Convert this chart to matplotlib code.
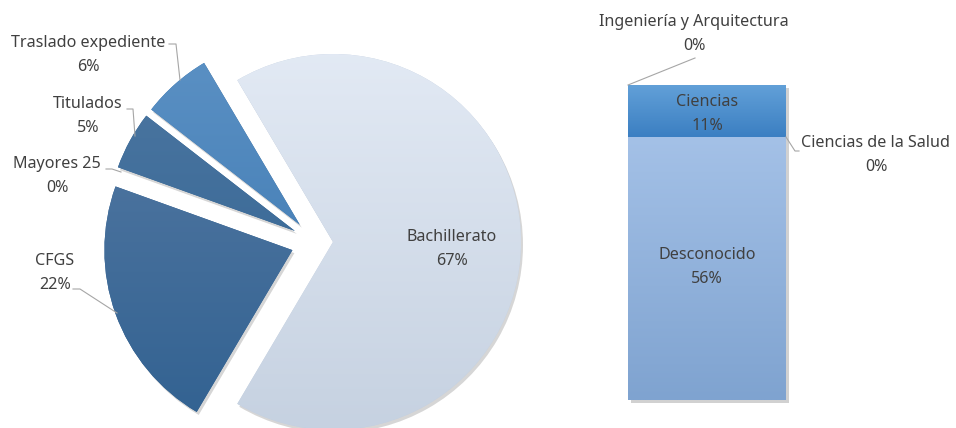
import matplotlib
matplotlib.use("Agg")
import matplotlib.pyplot as plt
import numpy as np
from matplotlib.colors import LinearSegmentedColormap
from matplotlib.patches import Rectangle
from matplotlib.transforms import offset_copy

# pie: origen de los alumnos (counterclockwise from Bachillerato)
pie_labels = ['Bachillerato', 'Traslado expediente', 'Titulados', 'Mayores 25', 'CFGS']
pie_values = [67, 6, 5, 0, 22]
pie_explode = [18, 23, 23, 23, 24]   # in px
pie_top = ['#e5ecf6', '#5e93c6', '#5079a3', '#5079a3', '#5a7da6']
pie_bot = ['#c3cfdf', '#3471ab', '#2b5f8f', '#2b5f8f', '#2e5f8f']

# bar: desglose de Bachillerato (bottom -> top)
bar_labels = ['Desconocido', 'Ciencias de la Salud', 'Ciencias', 'Ingeniería y Arquitectura']
bar_values = [56, 0, 11, 0]
bar_top = ['#a4c1e7', '#a4c1e7', '#62a0d8', '#62a0d8']
bar_bot = ['#7fa3d0', '#7fa3d0', '#3b7fc2', '#3b7fc2']

W, H = 956, 428
txt = '#404040'
line_c = '#a6a6a6'
plt.rcParams['font.family'] = ['Noto Sans', 'DejaVu Sans']
fs = 11.6


def grad_fill(a, patch, top, bot, ext):
    cm = LinearSegmentedColormap.from_list('g', [bot, top])
    g = np.linspace(0, 1, 256).reshape(-1, 1)
    im = a.imshow(g, cmap=cm, origin='lower', extent=ext, aspect='auto',
                  interpolation='bilinear', zorder=patch.get_zorder() + 0.1)
    im.set_clip_path(patch)


fig = plt.figure(figsize=(W / 100, H / 100), dpi=100)

# stacked bar (drawn below the main axes)
bx = fig.add_axes([628 / W, (H - 400) / H, 158 / W, 315 / H])
shadow_tr = offset_copy(bx.transAxes, fig=fig, x=2.5, y=-3, units='dots')
bx.add_patch(Rectangle((0, 0), 1, 1, transform=shadow_tr, color='black', alpha=0.18,
                       clip_on=False, zorder=0.5, lw=0))
bottom = 0
bars = []
for i, v in enumerate(bar_values):
    b = bx.bar(0, v, bottom=bottom, width=1.0, color=bar_bot[i], edgecolor='none')[0]
    bars.append((b, bottom))
    bottom += v
for i, (b, b0) in enumerate(bars):
    if bar_values[i] > 0:
        grad_fill(bx, b, bar_top[i], bar_bot[i], (-0.5, 0.5, b0, b0 + bar_values[i]))
bx.set_xlim(-0.5, 0.5)
bx.set_ylim(0, sum(bar_values))
bx.axis('off')

ax = fig.add_axes([0, 0, 1, 1])
ax.patch.set_visible(False)

R = 188
cx, cy = 315, H - 242
start = -180 * pie_values[0] / 100

# shadows first
sh, _ = ax.pie(pie_values, explode=pie_explode, startangle=start, radius=R,
               center=(cx + 2, cy - 3), counterclock=True)
for w in sh:
    w.set_facecolor('#000000')
    w.set_alpha(0.16)
    w.set_edgecolor('none')

wedges, _ = ax.pie(pie_values, explode=pie_explode, startangle=start, radius=R,
                   center=(cx, cy), counterclock=True,
                   wedgeprops=dict(edgecolor='none'))

for i, w in enumerate(wedges):
    w.set_facecolor(pie_bot[i])
    if pie_values[i] > 0:
        grad_fill(ax, w, pie_top[i], pie_bot[i], (cx - 1.4 * R, cx + 1.4 * R, cy - 1.2 * R, cy + 1.2 * R))

ax.set_xlim(0, W)
ax.set_ylim(0, H)
ax.set_aspect('auto')
ax.axis('off')


def lab(x, y, s, p, ha='center'):
    ax.text(x, H - y, s + '\n' + p, ha=ha, va='center', fontsize=fs, color=txt,
            linespacing=1.6, zorder=10)


def leader(xs, ys):
    ax.plot(xs, [H - v for v in ys], color=line_c, lw=0.8, zorder=9)


pct = ['%d%%' % v for v in pie_values]
lab(452, 249, pie_labels[0], pct[0])
lab(88, 55, pie_labels[1], pct[1])
lab(88, 116, pie_labels[2], pct[2])
lab(57, 176, pie_labels[3], pct[3])
lab(55, 273, pie_labels[4], pct[4])
leader([169, 176, 180], [44, 44, 80])
leader([127, 133, 135], [109, 109, 136])
leader([106, 112, 121], [169, 169, 172])
leader([73, 80, 117], [289, 289, 313])

bpct = ['%d%%' % v for v in bar_values]
lab(707, 267, bar_labels[0], bpct[0])
lab(707, 114, bar_labels[2], bpct[2])
lab(876, 155, bar_labels[1], bpct[1])
lab(694, 34, bar_labels[3], bpct[3])
leader([628, 695], [85, 58])
leader([786, 795, 799], [137, 151, 151])

fig.savefig('out.png', dpi=100)
